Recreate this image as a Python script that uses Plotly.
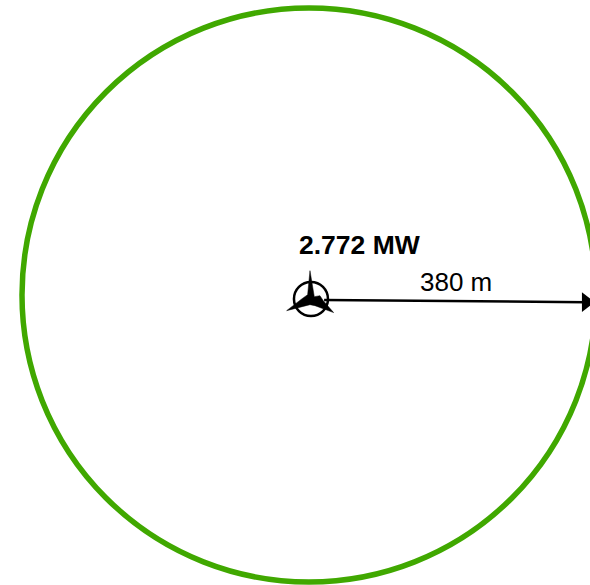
"""Wind turbine noise/setback radius sketch: one turbine and its 380 m circle."""
import plotly.graph_objects as go

# ── Data (metres, circle centre at 0, 0) ──────────────────────────────────────
RADIUS_M = 380
M_PER_PX = 380 / 287
x_range = [-309 * M_PER_PX, 281 * M_PER_PX]
y_range = [-290 * M_PER_PX, 295 * M_PER_PX]

turbine_x = 2.6
turbine_y = -5.3
rotor_radius = 22.5

# blade outline, offsets from the hub
blade_x = [-1.3, 3.1, 4.4, 11.9, 16.3, 30, 5.3, -1.3, -32.2, -12.3, -4.4, -1.3]
blade_y = [37.5, 8.8, 3.1, 4.4, -2.2, -18, -8.8, -7.5, -15.4, 0, 5.7, 37.5]

arrow_x = [20, 367]
arrow_y = [-6.5, -9.5]

power_label = "2.772 MW"
distance_label = "380 m"
GREEN = "#40a800"

fig = go.Figure()

# Blades
fig.add_trace(go.Scatter(
    x=[turbine_x + v for v in blade_x],
    y=[turbine_y + v for v in blade_y],
    mode="lines", fill="toself", fillcolor="black",
    line=dict(color="black", width=0.5), hoverinfo="skip",
))

# Distance arrow
fig.add_trace(go.Scatter(
    x=arrow_x, y=arrow_y, mode="lines+markers",
    line=dict(color="black", width=2.5),
    marker=dict(symbol="triangle-right", size=[0, 17], color="black", opacity=1, line=dict(width=0)),
    hoverinfo="skip",
))

# Setback circle and rotor ring
fig.add_shape(type="circle", xref="x", yref="y",
              x0=-RADIUS_M, x1=RADIUS_M, y0=-RADIUS_M, y1=RADIUS_M,
              line=dict(color=GREEN, width=5.5))
fig.add_shape(type="circle", xref="x", yref="y",
              x0=turbine_x - rotor_radius, x1=turbine_x + rotor_radius,
              y0=turbine_y - rotor_radius, y1=turbine_y + rotor_radius,
              line=dict(color="black", width=2.5))

# Labels
fig.add_annotation(x=67.5, y=66, text=f"<b>{power_label}</b>", showarrow=False,
                   font=dict(family="Liberation Sans", size=26.5, color="black"))
fig.add_annotation(x=194, y=17, text=distance_label, showarrow=False,
                   font=dict(family="Liberation Sans", size=26, color="black"))

fig.update_layout(
    width=590, height=585,
    margin=dict(l=0, r=0, t=0, b=0),
    paper_bgcolor="white", plot_bgcolor="white",
    showlegend=False,
    xaxis=dict(visible=False, range=x_range),
    yaxis=dict(visible=False, range=y_range),
)
# the page's default body margin would push the figure 8 px off
fig.write_html("out.html", config=dict(displayModeBar=False),
               post_script="document.body.style.margin='0';")
